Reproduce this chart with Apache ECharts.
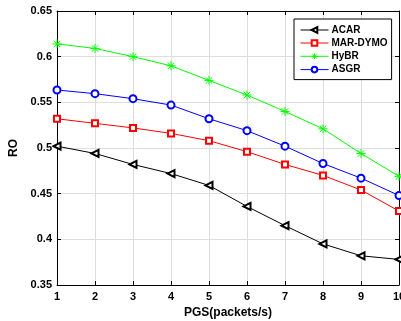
<!DOCTYPE html>
<html><head><meta charset="utf-8">
<script src="https://cdn.jsdelivr.net/npm/echarts@6/dist/echarts.min.js"></script>
<style>html,body{margin:0;padding:0;background:#fff}#c{width:401px;height:321px}</style>
</head><body><div id="c"></div>
<script>
const xValues = [1,2,3,4,5,6,7,8,9,10];
const acar = [0.502,0.494,0.482,0.472,0.459,0.436,0.415,0.395,0.382,0.378];
const marDymo = [0.532,0.527,0.522,0.516,0.508,0.496,0.482,0.470,0.454,0.431];
const hybr = [0.614,0.609,0.600,0.590,0.574,0.558,0.540,0.521,0.494,0.469];
const asgr = [0.5635,0.5595,0.554,0.547,0.532,0.519,0.502,0.483,0.467,0.448];
const seriesNames = ['ACAR','MAR-DYMO','HyBR','ASGR'];

const font = 'Liberation Sans, Arial, sans-serif';
const pair = arr => xValues.map((x,i)=>[x,arr[i]]);
const star = 'path://M0,-5L0,5M-5,0L5,0M-3.6,-3.6L3.6,3.6M-3.6,3.6L3.6,-3.6';

const chart = echarts.init(document.getElementById('c'), null, {renderer:'canvas'});
const axisCommon = {
  axisLine:{show:true,onZero:false,lineStyle:{color:'#000',width:1}},
  axisTick:{show:true,inside:true,length:4,lineStyle:{color:'#000'}},
};
function mk(name, data, color, symbol, size, rot, extra){
  return Object.assign({
    name, type:'line', data:pair(data), xAxisIndex:0, yAxisIndex:0,
    symbol, symbolSize:size, symbolRotate:rot||0, showSymbol:true, showAllSymbol:true,
    lineStyle:{color,width:1}, itemStyle:{color:color,borderWidth:1},
    animation:false
  }, extra||{});
}
chart.setOption({
  animation:false,
  backgroundColor:'#fff',
  grid:{left:57,right:2,top:11,bottom:36,outerBoundsMode:'none',containLabel:false},
  legend:{
    orient:'vertical', left:294, top:19,
    itemWidth:28, itemHeight:7, itemGap:3,
    padding:[6,4,5,6],
    borderColor:'#000', borderWidth:1, backgroundColor:'#fff',
    itemStyle:{borderWidth:1}, lineStyle:{width:1},
    textStyle:{fontFamily:font,fontWeight:'bold',fontSize:10,color:'#000',padding:[0,0,0,-2]},
    data:seriesNames
  },
  xAxis:[
    Object.assign({type:'value',min:1,max:10,interval:1,position:'bottom',
      name:'PGS(packets/s)',nameLocation:'middle',nameGap:22,
      nameTextStyle:{fontFamily:font,fontWeight:'bold',fontSize:12,color:'#000'},
      axisLabel:{fontFamily:font,fontWeight:'bold',fontSize:11,color:'#000',margin:6},
      splitLine:{show:true,lineStyle:{color:'#dedede',width:1}}},axisCommon),
    Object.assign({type:'value',min:1,max:10,interval:1,position:'top',
      axisLabel:{show:false},splitLine:{show:false}},axisCommon)
  ],
  yAxis:[
    Object.assign({type:'value',min:0.35,max:0.65,interval:0.05,position:'left',
      name:'RO',nameLocation:'middle',nameGap:31,
      nameTextStyle:{fontFamily:font,fontWeight:'bold',fontSize:12,color:'#000'},
      axisLabel:{fontFamily:font,fontWeight:'bold',fontSize:11,color:'#000',margin:5,
        formatter:v=>String(+v.toFixed(2))},
      splitLine:{show:true,lineStyle:{color:'#dedede',width:1}}},axisCommon),
    Object.assign({type:'value',min:0.35,max:0.65,interval:0.05,position:'right',
      axisLabel:{show:false},splitLine:{show:false}},axisCommon)
  ],
  series:[
    mk('ACAR', acar, '#000000', 'emptyTriangle', 7, 90),
    mk('MAR-DYMO', marDymo, '#ff0000', 'emptyRect', 6),
    mk('HyBR', hybr, '#00ff00', star, 9, 0, {itemStyle:{color:'none',borderColor:'#00ff00',borderWidth:1}}),
    mk('ASGR', asgr, '#0000ff', 'emptyCircle', 7)
  ]
});
</script></body></html>
